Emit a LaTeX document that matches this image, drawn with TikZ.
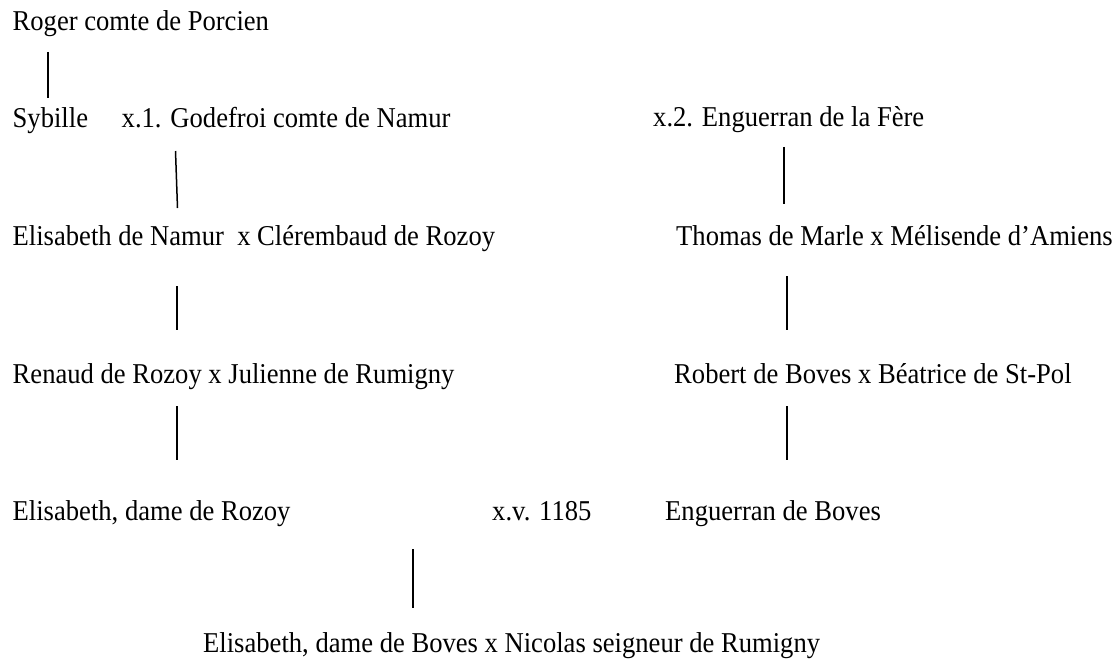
\documentclass[tikz,border=0pt]{standalone}
\usepackage{fontspec}
\usepackage{graphicx}
\setmainfont{Liberation Serif}
\newcommand\talltxt[1]{\scalebox{1}[1.08]{#1}}
\begin{document}
\begin{tikzpicture}[x=1pt,y=-1pt,
  lbl/.style={anchor=base west, inner sep=0pt, font=\fontsize{26.6}{32}\selectfont},
  lnk/.style={line width=1.5pt, black}]
\useasboundingbox[fill=white] (0,0) rectangle (1116,666);
% row 1
\node[lbl] (roger) at (12.5,30.5) {\talltxt{Roger comte de Porcien}};
% row 2
\node[lbl] (sybille) at (12.5,128) {\talltxt{Sybille}};
\node[lbl] (godefroi) at (121.5,128) {\talltxt{x.1. Godefroi comte de Namur}};
\node[lbl] (enguerranF) at (653,127) {\talltxt{x.2. Enguerran de la Fère}};
% row 3
\node[lbl] (elisN) at (12.5,245) {\talltxt{Elisabeth de Namur\ \ x Clérembaud de Rozoy}};
\node[lbl] (thomas) at (676,245) {\talltxt{Thomas de Marle x Mélisende d’Amiens}};
% row 4
\node[lbl] (renaud) at (12.5,383) {\talltxt{Renaud de Rozoy x Julienne de Rumigny}};
\node[lbl] (robert) at (674,383) {\talltxt{Robert de Boves x Béatrice de St-Pol}};
% row 5
\node[lbl] (elisR) at (12.5,520) {\talltxt{Elisabeth, dame de Rozoy}};
\node[lbl] (xv) at (492,520) {\talltxt{x.v. 1185}};
\node[lbl] (enguerranB) at (665,520) {\talltxt{Enguerran de Boves}};
% row 6
\node[lbl] (elisB) at (203,652) {\talltxt{Elisabeth, dame de Boves x Nicolas seigneur de Rumigny}};
% connector ends
\coordinate (a1) at (48,52);   \coordinate (b1) at (48,98);
\coordinate (a2) at (175.5,151); \coordinate (b2) at (177.5,208);
\coordinate (a3) at (784,147); \coordinate (b3) at (784,204);
\coordinate (a4) at (177,286); \coordinate (b4) at (177,330);
\coordinate (a5) at (787,276); \coordinate (b5) at (787,330);
\coordinate (a6) at (177,406); \coordinate (b6) at (177,460);
\coordinate (a7) at (787,406); \coordinate (b7) at (787,460);
\coordinate (a8) at (413,549); \coordinate (b8) at (413,608);
\draw[lnk] (a1) -- (b1);
\draw[lnk] (a2) -- (b2);
\draw[lnk] (a3) -- (b3);
\draw[lnk] (a4) -- (b4);
\draw[lnk] (a5) -- (b5);
\draw[lnk] (a6) -- (b6);
\draw[lnk] (a7) -- (b7);
\draw[lnk] (a8) -- (b8);
\end{tikzpicture}
\end{document}
